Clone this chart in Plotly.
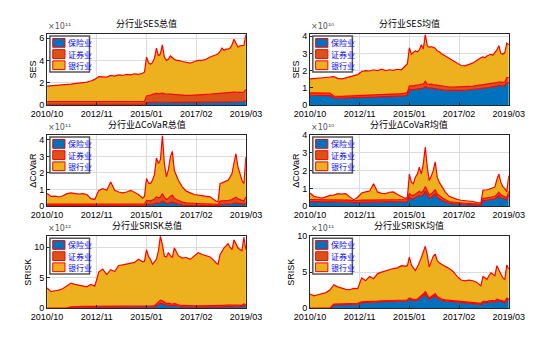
import plotly.graph_objects as go

# ---------------- data ----------------
# observation index (0 = 2010/10, 100 = 2019/03)
X = [0, 2, 4, 6, 8, 10, 12, 14, 16, 18, 20, 22, 24, 26, 28, 30, 32, 34, 36, 38, 40, 42, 44, 46, 48,
     49, 50, 51, 52, 53, 54, 55, 56, 57, 58, 59, 60, 61, 62, 63, 64, 65, 66,
     68, 70, 72, 74, 76, 78, 80, 82, 84,
     85, 86, 87, 88, 89, 90, 91, 92, 93, 94, 95, 96, 97, 98, 99, 100]
TICK_POS = [0, 25, 50, 75, 100]
TICK_TEXT = ["2010/10", "2012/11", "2015/01", "2017/02", "2019/03"]
SECTORS = ["保险业", "证券业", "银行业"]

# SES total (x1e11)
ses_sum_ins = [0.07, 0.07, 0.07, 0.07, 0.07, 0.07, 0.07, 0.07, 0.07, 0.07, 0.07, 0.07, 0.07, 0.07, 0.07, 0.07, 0.07, 0.07, 0.07, 0.07, 0.07, 0.07, 0.07, 0.07, 0.07,
               0.08, 0.22, 0.24, 0.24, 0.25, 0.25, 0.26, 0.25, 0.26, 0.27, 0.25, 0.25, 0.25, 0.25, 0.24, 0.24, 0.24, 0.23,
               0.23, 0.22, 0.22, 0.22, 0.23, 0.23, 0.24, 0.25, 0.26,
               0.27, 0.27, 0.28, 0.28, 0.28, 0.29, 0.29, 0.30, 0.30, 0.31, 0.31, 0.30, 0.31, 0.31, 0.32, 0.40]
ses_sum_sec = [0.25, 0.25, 0.25, 0.25, 0.25, 0.25, 0.25, 0.25, 0.25, 0.25, 0.25, 0.25, 0.25, 0.25, 0.25, 0.25, 0.25, 0.25, 0.25, 0.25, 0.25, 0.25, 0.25, 0.25, 0.25,
               0.25, 0.60, 0.65, 0.66, 0.70, 0.75, 0.78, 0.75, 0.77, 0.80, 0.75, 0.72, 0.72, 0.73, 0.72, 0.70, 0.70, 0.70,
               0.67, 0.65, 0.65, 0.66, 0.67, 0.68, 0.70, 0.72, 0.74,
               0.75, 0.76, 0.77, 0.80, 0.78, 0.78, 0.79, 0.80, 0.82, 0.85, 0.84, 0.82, 0.83, 0.83, 0.85, 1.00]
ses_sum_bank = [1.38, 1.40, 1.43, 1.46, 1.50, 1.53, 1.56, 1.60, 1.63, 1.66, 1.73, 1.83, 1.98, 2.23, 2.23, 2.18, 2.33, 2.28, 2.38, 2.33, 2.43, 2.38, 2.48, 2.43, 2.53,
                2.62, 3.48, 2.91, 2.75, 2.85, 3.20, 4.06, 3.40, 3.57, 4.33, 3.30, 3.03, 3.13, 3.42, 3.24, 3.16, 3.06, 3.07,
                3.00, 2.93, 2.88, 3.02, 3.10, 3.09, 3.16, 3.33, 3.40,
                3.48, 3.57, 3.75, 4.02, 3.84, 3.93, 3.92, 4.00, 4.28, 4.74, 4.45, 4.08, 4.16, 4.16, 4.18, 4.90]

# SES mean (x1e10)
ses_avg_ins = [0.57, 0.57, 0.56, 0.56, 0.55, 0.55, 0.42, 0.40, 0.40, 0.42, 0.43, 0.44, 0.45, 0.47, 0.48, 0.48, 0.49, 0.50, 0.50, 0.50, 0.51, 0.51, 0.52, 0.52, 0.55,
               0.60, 0.90, 0.88, 0.90, 0.92, 0.93, 0.95, 1.00, 0.98, 1.08, 1.00, 0.98, 1.00, 0.97, 0.95, 0.93, 0.90, 0.88,
               0.86, 0.85, 0.84, 0.84, 0.85, 0.86, 0.88, 0.90, 0.93,
               0.95, 0.97, 0.98, 0.99, 1.00, 1.02, 1.04, 1.05, 1.07, 1.10, 1.15, 1.12, 1.12, 1.14, 1.30, 1.30]
ses_avg_sec = [0.14, 0.14, 0.14, 0.14, 0.14, 0.14, 0.10, 0.10, 0.10, 0.10, 0.10, 0.10, 0.10, 0.13, 0.13, 0.13, 0.13, 0.13, 0.13, 0.13, 0.13, 0.13, 0.13, 0.13, 0.13,
               0.13, 0.22, 0.22, 0.22, 0.22, 0.22, 0.22, 0.22, 0.22, 0.30, 0.22, 0.22, 0.22, 0.22, 0.22, 0.22, 0.22, 0.22,
               0.20, 0.20, 0.20, 0.20, 0.20, 0.20, 0.20, 0.20, 0.20,
               0.20, 0.20, 0.20, 0.20, 0.20, 0.20, 0.20, 0.20, 0.20, 0.20, 0.20, 0.20, 0.20, 0.20, 0.30, 0.30]
ses_avg_bank = [0.81, 0.84, 0.85, 0.88, 0.91, 0.93, 1.13, 1.05, 1.02, 1.06, 1.12, 1.16, 1.22, 1.35, 1.39, 1.37, 1.43, 1.37, 1.45, 1.37, 1.41, 1.38, 1.43, 1.40, 1.62,
                1.67, 2.21, 1.85, 1.93, 2.01, 1.95, 2.03, 2.28, 2.05, 2.72, 2.23, 2.15, 2.18, 2.16, 2.13, 2.00, 1.98, 1.90,
                1.79, 1.65, 1.51, 1.36, 1.25, 1.22, 1.27, 1.35, 1.47,
                1.55, 1.58, 1.62, 1.56, 1.65, 1.68, 1.71, 1.65, 1.78, 1.90, 2.10, 1.68, 1.63, 1.71, 2.00, 1.90]

# dCoVaR total (x1e11)
cov_sum_ins = [0.04, 0.04, 0.04, 0.04, 0.04, 0.04, 0.04, 0.04, 0.04, 0.04, 0.04, 0.04, 0.04, 0.04, 0.04, 0.04, 0.04, 0.04, 0.04, 0.04, 0.04, 0.04, 0.04, 0.04, 0.04,
               0.05, 0.10, 0.10, 0.10, 0.12, 0.15, 0.20, 0.18, 0.20, 0.30, 0.20, 0.15, 0.17, 0.22, 0.25, 0.18, 0.15, 0.12,
               0.08, 0.06, 0.05, 0.05, 0.04, 0.04, 0.04, 0.04, 0.03,
               0.03, 0.03, 0.10, 0.10, 0.11, 0.11, 0.12, 0.13, 0.14, 0.17, 0.20, 0.16, 0.14, 0.12, 0.11, 0.20]
cov_sum_sec = [0.08, 0.08, 0.08, 0.08, 0.08, 0.08, 0.08, 0.08, 0.08, 0.08, 0.08, 0.08, 0.08, 0.08, 0.08, 0.08, 0.08, 0.08, 0.08, 0.08, 0.08, 0.08, 0.08, 0.08, 0.08,
               0.08, 0.25, 0.22, 0.22, 0.25, 0.28, 0.35, 0.32, 0.35, 0.46, 0.32, 0.25, 0.30, 0.38, 0.41, 0.30, 0.25, 0.22,
               0.16, 0.13, 0.12, 0.11, 0.10, 0.10, 0.10, 0.10, 0.08,
               0.07, 0.07, 0.20, 0.20, 0.21, 0.22, 0.22, 0.23, 0.25, 0.30, 0.33, 0.28, 0.25, 0.22, 0.20, 0.36]
cov_sum_bank = [0.64, 0.46, 0.48, 0.43, 0.50, 0.63, 0.68, 0.66, 0.60, 0.63, 0.58, 0.33, 0.28, 0.83, 0.93, 0.83, 1.33, 0.83, 0.73, 0.68, 0.73, 0.83, 0.68, 0.58, 0.36,
                0.47, 1.31, 1.08, 1.04, 1.19, 1.47, 2.35, 2.06, 2.25, 3.50, 2.04, 1.36, 1.73, 2.36, 2.64, 1.68, 1.40, 1.22,
                0.92, 0.71, 0.63, 0.54, 0.52, 0.48, 0.46, 0.42, 0.27,
                0.20, 0.18, 1.06, 1.10, 1.13, 1.17, 1.22, 1.39, 1.57, 2.13, 2.63, 1.92, 1.51, 1.22, 1.05, 2.40]

# dCoVaR mean (x1e10)
cov_avg_ins = [0.25, 0.25, 0.25, 0.25, 0.25, 0.25, 0.22, 0.22, 0.22, 0.22, 0.22, 0.20, 0.22, 0.22, 0.22, 0.22, 0.22, 0.22, 0.22, 0.22, 0.22, 0.22, 0.22, 0.22, 0.22,
               0.25, 0.50, 0.42, 0.42, 0.50, 0.55, 0.62, 0.55, 0.65, 0.85, 0.65, 0.45, 0.50, 0.58, 0.70, 0.50, 0.42, 0.36,
               0.25, 0.17, 0.14, 0.12, 0.10, 0.10, 0.09, 0.08, 0.06,
               0.06, 0.06, 0.30, 0.32, 0.33, 0.35, 0.37, 0.38, 0.40, 0.50, 0.60, 0.48, 0.42, 0.40, 0.35, 0.65]
cov_avg_sec = [0.12, 0.12, 0.12, 0.12, 0.12, 0.12, 0.12, 0.12, 0.12, 0.12, 0.12, 0.10, 0.12, 0.12, 0.12, 0.12, 0.12, 0.12, 0.12, 0.12, 0.12, 0.12, 0.12, 0.12, 0.12,
               0.12, 0.20, 0.18, 0.18, 0.20, 0.20, 0.22, 0.20, 0.22, 0.26, 0.22, 0.18, 0.19, 0.20, 0.22, 0.18, 0.16, 0.15,
               0.12, 0.09, 0.08, 0.07, 0.06, 0.06, 0.06, 0.05, 0.04,
               0.04, 0.04, 0.12, 0.12, 0.12, 0.13, 0.13, 0.13, 0.14, 0.16, 0.18, 0.15, 0.14, 0.13, 0.12, 0.17]
cov_avg_bank = [0.37, 0.18, 0.13, 0.08, 0.15, 0.23, 0.28, 0.36, 0.34, 0.36, 0.18, 0.05, 0.16, 0.40, 0.46, 0.51, 0.92, 0.46, 0.38, 0.36, 0.44, 0.46, 0.31, 0.21, 0.09,
                0.13, 1.10, 0.75, 0.66, 0.93, 1.05, 1.36, 1.05, 1.53, 2.22, 1.33, 0.81, 1.01, 1.22, 1.58, 0.95, 0.77, 0.66,
                0.43, 0.29, 0.23, 0.19, 0.17, 0.16, 0.15, 0.13, 0.10,
                0.09, 0.08, 0.48, 0.46, 0.47, 0.47, 0.50, 0.51, 0.53, 0.84, 1.02, 0.72, 0.54, 0.45, 0.33, 0.90]

# SRISK total (x1e12)
srisk_sum_ins = [0, 0, 0, 0, 0, 0, 0.12, 0.15, 0.15, 0.15, 0.15, 0.15, 0.15, 0.15, 0.15, 0.15, 0.15, 0.15, 0.15, 0.15, 0.15, 0.15, 0.15, 0.15, 0.15,
                 0.15, 0.20, 0.20, 0.20, 0.20, 0.25, 0.40, 0.60, 0.80, 0.75, 0.55, 0.45, 0.50, 0.40, 0.35, 0.45, 0.35, 0.30,
                 0.25, 0.22, 0.20, 0.20, 0.20, 0.20, 0.20, 0.18, 0.18,
                 0.18, 0.18, 0.20, 0.22, 0.25, 0.30, 0.32, 0.30, 0.28, 0.35, 0.32, 0.30, 0.28, 0.28, 0.45, 0.35]
srisk_sum_sec = [0, 0, 0, 0, 0, 0, 0.10, 0.12, 0.12, 0.12, 0.12, 0.12, 0.12, 0.12, 0.12, 0.12, 0.12, 0.12, 0.12, 0.12, 0.12, 0.12, 0.12, 0.12, 0.12,
                 0.12, 0.15, 0.15, 0.15, 0.15, 0.15, 0.30, 0.40, 0.50, 0.45, 0.35, 0.30, 0.30, 0.28, 0.25, 0.30, 0.25, 0.22,
                 0.18, 0.15, 0.15, 0.15, 0.15, 0.15, 0.15, 0.15, 0.15,
                 0.15, 0.15, 0.18, 0.18, 0.18, 0.18, 0.18, 0.18, 0.18, 0.18, 0.18, 0.18, 0.18, 0.18, 0.25, 0.20]
srisk_sum_bank = [3.30, 2.70, 2.85, 2.95, 3.20, 3.60, 3.88, 3.63, 3.48, 3.33, 3.23, 3.63, 3.33, 5.63, 6.13, 5.23, 6.03, 5.73, 6.73, 6.83, 6.93, 7.03, 7.23, 7.73, 7.33,
                  7.43, 9.25, 8.15, 7.65, 6.85, 7.20, 7.30, 8.40, 10.50, 9.20, 7.60, 7.65, 8.30, 7.92, 7.70, 9.15, 8.60, 8.08,
                  7.77, 7.93, 7.65, 8.25, 8.75, 8.45, 8.25, 8.07, 7.47,
                  7.07, 6.87, 8.42, 8.90, 9.47, 9.72, 10.10, 9.52, 9.14, 10.67, 10.00, 9.42, 9.14, 8.94, 10.90, 9.05]

# SRISK mean (x1e11)
srisk_avg_ins = [0, 0, 0, 0, 0, 0, 0.45, 0.45, 0.50, 0.50, 0.52, 0.55, 0.55, 0.75, 0.75, 0.80, 0.80, 0.85, 0.90, 0.92, 0.95, 0.95, 0.97, 1.00, 1.00,
                 1.00, 1.25, 1.10, 1.05, 1.00, 1.10, 1.30, 1.50, 1.70, 2.00, 1.60, 1.20, 1.40, 1.60, 1.80, 1.40, 1.20, 1.10,
                 1.00, 0.95, 0.90, 0.85, 0.80, 0.78, 0.75, 0.72, 0.65,
                 0.55, 0.50, 0.80, 0.80, 0.75, 0.85, 0.90, 0.88, 0.85, 1.10, 1.00, 0.90, 0.80, 0.75, 1.20, 1.10]
srisk_avg_sec = [0, 0, 0, 0, 0, 0, 0.12, 0.12, 0.12, 0.12, 0.12, 0.12, 0.12, 0.12, 0.12, 0.12, 0.12, 0.12, 0.12, 0.12, 0.12, 0.12, 0.12, 0.12, 0.12,
                 0.12, 0.15, 0.15, 0.15, 0.15, 0.15, 0.20, 0.22, 0.25, 0.30, 0.25, 0.20, 0.22, 0.22, 0.22, 0.20, 0.20, 0.20,
                 0.15, 0.15, 0.15, 0.15, 0.15, 0.15, 0.15, 0.15, 0.15,
                 0.15, 0.15, 0.15, 0.15, 0.15, 0.15, 0.15, 0.15, 0.15, 0.15, 0.15, 0.15, 0.15, 0.15, 0.20, 0.15]
srisk_avg_bank = [1.95, 1.70, 1.85, 1.95, 2.15, 2.50, 2.68, 2.38, 2.13, 1.98, 1.91, 2.08, 2.03, 3.33, 2.93, 3.48, 3.18, 3.83, 3.98, 4.16, 4.33, 4.43, 4.51, 4.78, 4.73,
                  4.78, 5.70, 4.75, 4.40, 4.05, 4.45, 4.80, 5.28, 5.85, 6.30, 5.55, 4.30, 4.88, 5.38, 5.48, 5.00, 4.90, 4.80,
                  4.65, 4.40, 4.05, 3.40, 2.95, 2.87, 3.00, 2.93, 2.75,
                  2.60, 2.45, 3.45, 3.25, 3.10, 3.50, 3.85, 3.67, 3.50, 4.65, 4.15, 3.65, 3.25, 3.10, 4.60, 4.15]

# ---------------- figure ----------------
W, H = 554, 350
COLORS = ["#0072BD", "#D95319", "#EDB120"]
CJK = "Noto Sans CJK SC"
LAT = "Liberation Sans"

panels = [
    dict(title="分行业SES总值", ytitle="SES", exp="×10¹¹", data=(ses_sum_ins, ses_sum_sec, ses_sum_bank), yr=6.35, yt=[0, 2, 4, 6]),
    dict(title="分行业SES均值", ytitle="SES", exp="×10¹⁰", data=(ses_avg_ins, ses_avg_sec, ses_avg_bank), yr=4.12, yt=[0, 1, 2, 3, 4]),
    dict(title="分行业ΔCoVaR总值", ytitle="ΔCoVaR", exp="×10¹¹", data=(cov_sum_ins, cov_sum_sec, cov_sum_bank), yr=4.28, yt=[0, 1, 2, 3, 4]),
    dict(title="分行业ΔCoVaR均值", ytitle="ΔCoVaR", exp="×10¹⁰", data=(cov_avg_ins, cov_avg_sec, cov_avg_bank), yr=4.0, yt=[0, 1, 2, 3, 4]),
    dict(title="分行业SRISK总值", ytitle="SRISK", exp="×10¹²", data=(srisk_sum_ins, srisk_sum_sec, srisk_sum_bank), yr=11.8, yt=[0, 5, 10]),
    dict(title="分行业SRISK均值", ytitle="SRISK", exp="×10¹¹", data=(srisk_avg_ins, srisk_avg_sec, srisk_avg_bank), yr=10.0, yt=[0, 5, 10]),
]

# plot-area pixel boxes (left, right) and (top, bottom)
cols_px = [(33, 244), (312, 523)]
rows_px = [(30, 103), (134, 207), (238, 312)]


def px(xp):
    return xp / W


def py(yp):
    return 1 - yp / H


fig = go.Figure()
layout = dict(width=W, height=H, margin=dict(l=0, r=0, t=0, b=0),
              paper_bgcolor="white", plot_bgcolor="white", showlegend=False,
              annotations=[], shapes=[])

for i, p in enumerate(panels):
    n = i + 1
    r, c = divmod(i, 2)
    x0, x1 = cols_px[c]
    t, b = rows_px[r]
    xa = "x" if n == 1 else f"x{n}"
    ya = "y" if n == 1 else f"y{n}"
    for k in range(3):
        fig.add_trace(go.Scatter(
            x=X, y=p["data"][k], name=SECTORS[k], mode="lines",
            line=dict(color="#FF0000", width=1.2), fillcolor=COLORS[k],
            stackgroup=f"s{n}", xaxis=xa, yaxis=ya, hoverinfo="skip"))
    axstyle = dict(showline=True, mirror=True, linecolor="#262626", linewidth=1,
                   ticks="inside", ticklen=3, tickcolor="#262626",
                   showgrid=True, gridcolor="#dcdcdc", gridwidth=1, zeroline=False,
                   tickfont=dict(family=LAT, size=9, color="black"))
    layout["xaxis" if n == 1 else f"xaxis{n}"] = dict(
        domain=[px(x0), px(x1)], range=[0, 100], tickvals=TICK_POS, ticktext=TICK_TEXT,
        anchor=ya, **axstyle)
    layout["yaxis" if n == 1 else f"yaxis{n}"] = dict(
        domain=[py(b), py(t)], range=[0, p["yr"]], tickvals=p["yt"],
        anchor=xa, title=dict(text=p["ytitle"], font=dict(family=LAT, size=9, color="black"), standoff=1),
        **axstyle)
    # title and exponent label
    layout["annotations"].append(dict(
        text=p["title"], x=px((x0 + x1) / 2), y=py(t - 2), xref="paper", yref="paper",
        xanchor="center", yanchor="bottom", showarrow=False,
        font=dict(family=CJK, size=9, color="black")))
    layout["annotations"].append(dict(
        text=p["exp"], x=px(x0 - 1), y=py(t - 1), xref="paper", yref="paper",
        xanchor="left", yanchor="bottom", showarrow=False,
        font=dict(family="DejaVu Sans", size=8, color="#555")))
    # MATLAB-style legend box (top-left inside the axes)
    lx0, ly0 = x0 + 3, t + 2
    layout["shapes"].append(dict(type="rect", xref="paper", yref="paper",
                                 x0=px(lx0), x1=px(lx0 + 42), y0=py(ly0 + 37), y1=py(ly0),
                                 fillcolor="white", line=dict(color="#555", width=1.5), layer="above"))
    for k in range(3):
        cy = ly0 + 7 + k * 11.5
        layout["shapes"].append(dict(type="rect", xref="paper", yref="paper",
                                     x0=px(lx0 + 3), x1=px(lx0 + 16), y0=py(cy + 4.5), y1=py(cy - 4.5),
                                     fillcolor=COLORS[k], line=dict(color="#FF0000", width=1), layer="above"))
        layout["annotations"].append(dict(
            text=SECTORS[k], x=px(lx0 + 17), y=py(cy), xref="paper", yref="paper",
            xanchor="left", yanchor="middle", showarrow=False,
            font=dict(family=CJK, size=8, color="#0000FF")))

fig.update_layout(**layout)
fig.write_html("out.html")
